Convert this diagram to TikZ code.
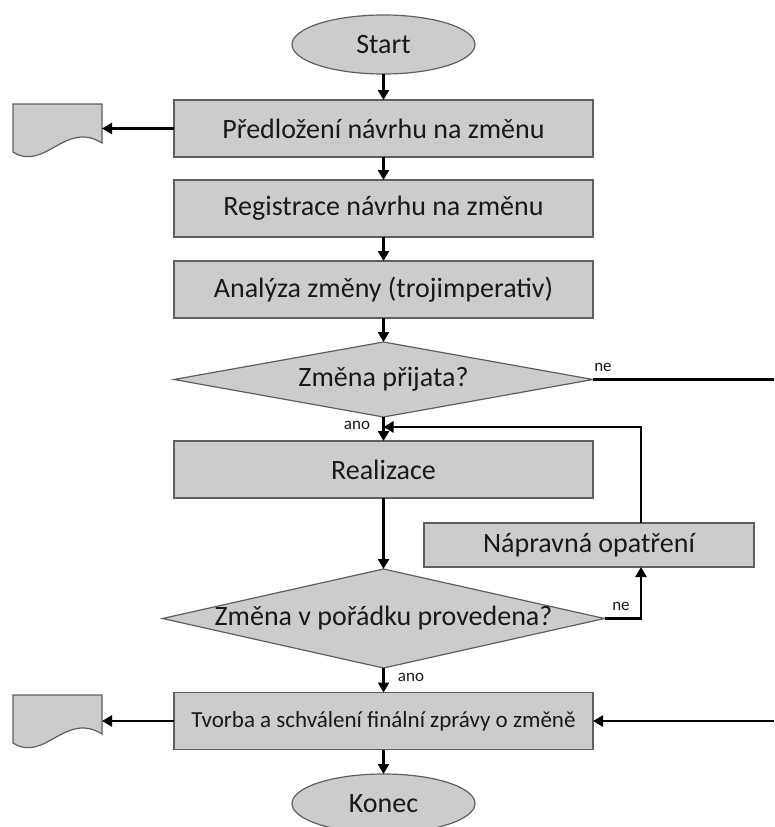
\documentclass[tikz,border=0pt]{standalone}
\usepackage{fontspec}
\setmainfont{Carlito}
\usetikzlibrary{shapes.geometric,arrows.meta}
\definecolor{shapefill}{RGB}{204,204,204}
\definecolor{shapeborder}{RGB}{95,95,95}
\definecolor{txt}{RGB}{25,25,25}
\begin{document}
\begin{tikzpicture}[x=1pt,y=-1pt,
  shapebox/.style={draw=shapeborder,line width=1.2pt,fill=shapefill},
  procbox/.style={shapebox,rectangle,minimum width=419pt,minimum height=57pt,inner sep=0pt,outer sep=0pt,text=txt,font=\fontsize{28}{30}\selectfont},
  startend/.style={shapebox,ellipse,minimum width=183pt,minimum height=59pt,inner sep=0pt,outer sep=0pt,text=txt,font=\fontsize{28}{30}\selectfont},
  decision/.style={shapebox,diamond,inner sep=0pt,outer sep=0pt},
  dtext/.style={inner sep=0pt,text=txt,font=\fontsize{28}{30}\selectfont},
  lbl/.style={inner sep=0pt,text=txt,font=\fontsize{17}{19}\selectfont},
  conn/.style={line width=2.6pt,black},
  arr/.style={conn,-{Triangle[length=10pt,width=11pt]}},
  docpic/.pic={\path[shapebox] (0,0) -- (89,0) -- (89,39) .. controls (52,16) and (32,68) .. (0,48) -- cycle;}
]
\useasboundingbox (0,0) rectangle (774,827);

% shapes
\node[startend] (start) at (383.5,44.5) {Start};
\node[procbox] (b1) at (383.5,128.5) {Předložení návrhu na změnu};
\node[procbox] (b2) at (383.5,208.5) {Registrace návrhu na změnu};
\node[procbox] (b3) at (383.5,289.5) {Analýza změny (trojimperativ)};
\node[decision,minimum width=419pt,minimum height=75pt] (d1) at (383.5,379.5) {};
\node[dtext] (d1t) at (d1.center) {Změna přijata?};
\node[procbox] (b4) at (383.5,469.5) {Realizace};
\node[procbox,minimum width=330pt,minimum height=44pt] (nap) at (589,545) {Nápravná opatření};
\node[decision,minimum width=442pt,minimum height=99pt] (d2) at (383.5,618.5) {};
\node[dtext] (d2t) at (d2.center) {Změna v pořádku provedena?};
\node[procbox,font=\fontsize{23}{25}\selectfont] (b5) at (383.5,721) {Tvorba a schválení finální zprávy o změně};
\node[startend] (konec) at (383.5,803.5) {Konec};

\pic at (13,104) {docpic};
\pic at (13,695) {docpic};

% helper coordinates
\coordinate (doc1) at (102,128.5);
\coordinate (doc2) at (102,721);
\coordinate (eR1) at (774,379.5);
\coordinate (eR2) at (774,721);
\coordinate (fbx) at (641,0);
\coordinate (join) at (383.5,427);

% connectors
\draw[arr] (start) -- (b1);
\draw[arr] (b1.west) -- (doc1);
\draw[arr] (b1) -- (b2);
\draw[arr] (b2) -- (b3);
\draw[arr] (b3) -- (d1);
\draw[arr] (d1) -- (b4);
\draw[conn] (d1.east) -- (eR1);
\draw[arr] (nap.north -| fbx) |- (join);
\draw[arr] (b4) -- (d2);
\draw[arr] (d2.east) -| (nap.south -| fbx);
\draw[arr] (d2) -- (b5);
\draw[arr] (eR2) -- (b5.east);
\draw[arr] (b5.west) -- (doc2);
\draw[arr] (b5) -- (konec);

% labels
\node[lbl] (ne1) at (603,367) {ne};
\node[lbl] (ano1) at (357,425) {ano};
\node[lbl] (ne2) at (621,606) {ne};
\node[lbl] (ano2) at (411,677) {ano};
\end{tikzpicture}
\end{document}
